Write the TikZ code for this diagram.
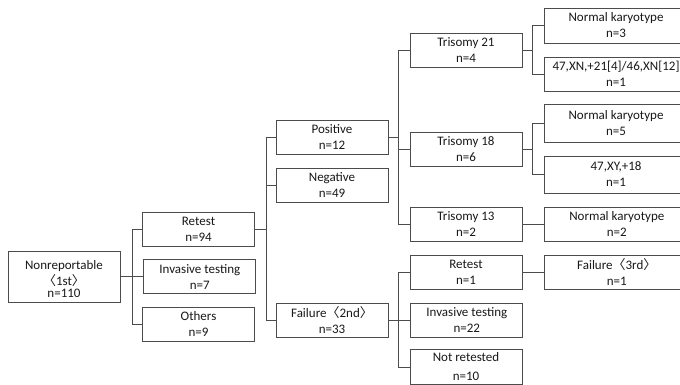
\documentclass[tikz,border=0pt]{standalone}
\usepackage{fontspec}
\setmainfont{Carlito}
\newfontfamily\cjk{Noto Sans CJK JP}
\usetikzlibrary{positioning}

\newcommand{\lbr}{{\cjk 〈}}
\newcommand{\rbr}{{\cjk 〉}}

\tikzstyle{block} = [draw=black!70, line width=0.8pt, rectangle, align=center,
    text=black!90, inner sep=1pt, minimum height=34pt, minimum width=112pt,
    font=\fontsize{13}{16}\selectfont]
\tikzstyle{wide} = [block, minimum width=144pt]
\tikzstyle{line} = [draw=black!70, line width=0.8pt]

\begin{document}
\begin{tikzpicture}[x=1pt, y=-1pt, node distance=22pt]
    \path [use as bounding box, fill=white] (0,0) rectangle (680,384);

    % first test
    \node [block, minimum height=51pt] (root) at (64,276.5)
        {\rule{0pt}{15pt}Nonreportable\\\lbr 1st\rbr\\[-4pt]n=110};
    \node [block] (retest) at (198.5,229) {Retest\\n=94};
    \node [block, right=23pt of root] (invasive) {Invasive testing\\n=7};
    \node [block] (others) at (198.5,324) {Others\\n=9};

    % second test
    \node [block] (positive) at (332,137) {Positive\\n=12};
    \node [block] (negative) at (332,185) {Negative\\n=49};
    \node [block] (failure2) at (332,320) {Failure\lbr 2nd\rbr\\n=33};

    \node [block] (tri21) at (466,50) {Trisomy 21\\n=4};
    \node [block] (tri18) at (466,149) {Trisomy 18\\n=6};
    \node [block] (tri13) at (466,224) {Trisomy 13\\n=2};
    \node [block] (retest1) at (466,272) {Retest\\n=1};
    \node [block, right=of failure2] (invasive22) {Invasive testing\\n=22};
    \node [block, minimum height=35pt] (notretested) at (466,367)
        {Not retested\\[3pt]n=10};

    % karyotypes
    \node [wide, minimum height=35pt] (normal21) at (616,25.5) {Normal karyotype\\n=3};
    \node [wide] (mosaic) at (616,74) {47,XN,+21[4]/46,XN[12]\\n=1};
    \node [wide, minimum height=38pt] (normal18) at (616,123) {Normal karyotype\\n=5};
    \node [wide, minimum height=37pt] (xy18) at (616,174.5) {47,XY,+18\\n=1};
    \node [wide, right=of tri13] (normal13) {Normal karyotype\\n=2};
    \node [wide, right=of retest1] (failure3) {Failure\lbr 3rd\rbr\\n=1};

    % connectors
    \draw [line] (root.east) -- ++(11.5,0) coordinate (b1);
    \draw [line] (b1) |- (retest.west);
    \draw [line] (b1) -- (invasive.west);
    \draw [line] (b1) |- (others.west);

    \draw [line] (retest.east) -- ++(11,0) coordinate (b2);
    \draw [line] (b2) |- (positive.west);
    \draw [line] (b2) |- (negative.west);
    \draw [line] (b2) |- (failure2.west);

    \draw [line] (positive.east) -- ++(10,0) coordinate (b3);
    \draw [line] (b3) |- (tri21.west);
    \draw [line] (b3) |- (tri18.west);
    \draw [line] (b3) |- (tri13.west);

    \draw [line] (tri21.east) -- ++(10,0) coordinate (b4);
    \draw [line] (b4) |- (normal21.west);
    \draw [line] (b4) |- (mosaic.west);

    \draw [line] (tri18.east) -- ++(10,0) coordinate (b5);
    \draw [line] (b5) |- (normal18.west);
    \draw [line] (b5) |- (xy18.west);

    \draw [line] (tri13) -- (normal13);

    \draw [line] (failure2.east) -- ++(10,0) coordinate (b6);
    \draw [line] (b6) |- (retest1.west);
    \draw [line] (b6) -- (invasive22.west);
    \draw [line] (b6) |- (notretested.west);

    \draw [line] (retest1) -- (failure3);
\end{tikzpicture}
\end{document}
